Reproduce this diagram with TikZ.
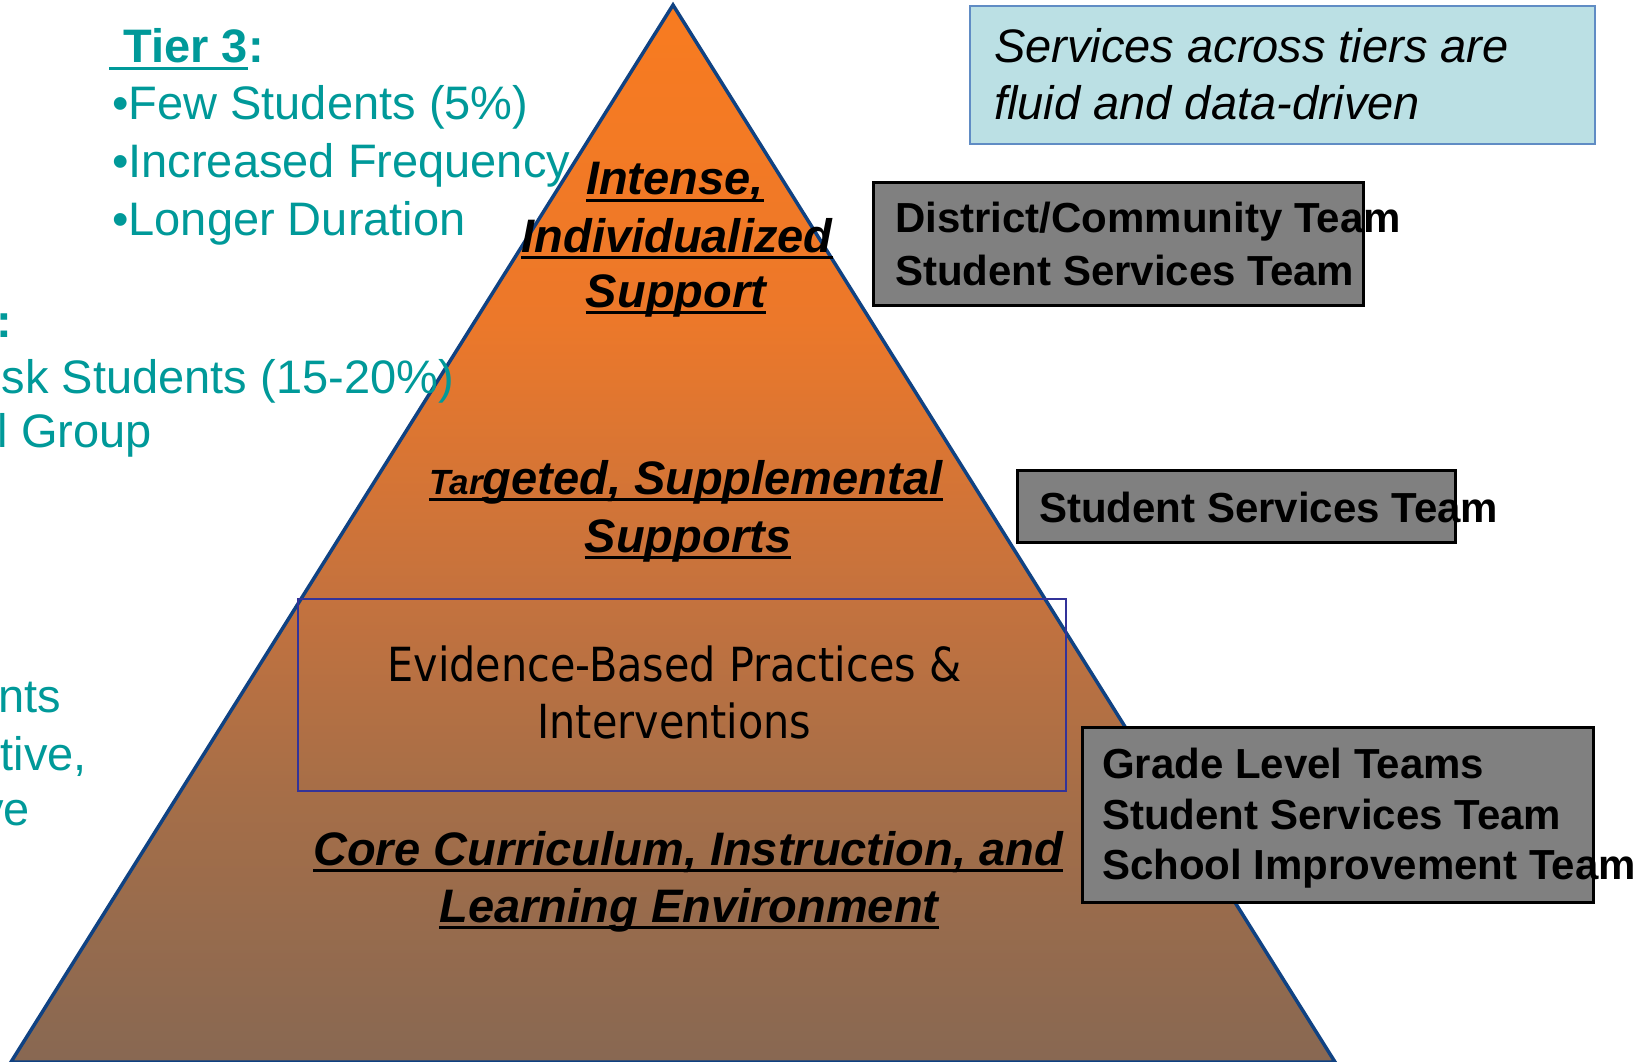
\documentclass[tikz,border=0pt]{standalone}
\usepackage{fontspec}
\setmainfont{Liberation Sans}
\newfontfamily\tahomish[FakeStretch=0.88]{DejaVu Sans}
\usepackage{tikz}

\definecolor{tiercol}{RGB}{0,153,153}
\definecolor{tritop}{RGB}{248,123,32}
\definecolor{trihigh}{RGB}{236,120,42}
\definecolor{trimid}{RGB}{196,114,62}
\definecolor{trilow}{RGB}{165,110,72}
\definecolor{tribot}{RGB}{136,104,82}
\definecolor{triedge}{RGB}{16,66,130}
\definecolor{evcol}{RGB}{51,51,153}
\definecolor{fluidfill}{RGB}{187,224,228}
\definecolor{fluidedge}{RGB}{96,140,196}
\definecolor{boxgray}{RGB}{128,128,128}

\pgfdeclareverticalshading{pyramidfill}{100bp}{color(0bp)=(tribot); color(25bp)=(tribot);
  color(37.4bp)=(trilow); color(46.9bp)=(trimid); color(60.1bp)=(trihigh);
  color(75bp)=(tritop); color(100bp)=(tritop)}

\begin{document}
\begin{tikzpicture}[x=1pt,y=-1pt]
        \tikzstyle{tiertxt}=[inner sep=0pt, anchor=base west, text=tiercol, font=\fontsize{47}{56}\selectfont]
        \tikzstyle{tierhead}=[tiertxt, font=\fontsize{47}{56}\selectfont\bfseries]
        \tikzstyle{cuttxt}=[tiertxt, anchor=base east]
        \tikzstyle{lvltxt}=[inner sep=0pt, anchor=base, font=\fontsize{47}{56}\selectfont\bfseries\itshape]
        \tikzstyle{ulrule}=[line width=3pt]
        \tikzstyle{evbox}=[draw=evcol, line width=2pt, inner sep=0pt, minimum width=768pt, minimum height=192pt]
        \tikzstyle{evtxt}=[inner sep=0pt, anchor=base, font=\tahomish\fontsize{47}{56}\selectfont]
        \tikzstyle{fluidbox}=[draw=fluidedge, fill=fluidfill, line width=2.5pt, inner sep=0pt, minimum width=625pt, minimum height=138pt]
        \tikzstyle{fluidtxt}=[inner sep=0pt, anchor=base west, font=\fontsize{47}{56}\selectfont\itshape]
        \tikzstyle{teambox}=[draw=black, fill=boxgray, line width=3pt, inner sep=0pt]
        \tikzstyle{teamtxt}=[inner sep=0pt, anchor=base west, font=\fontsize{42}{50}\selectfont\bfseries]

        \useasboundingbox (0,0) rectangle (1642,1062);

        \path[shade, shading=pyramidfill, draw=triedge, line width=3.5pt]
            (673,5) -- (1335,1062) -- (11,1062) -- cycle;

        \node[tierhead] (tier3) at (123,63) {Tier 3};
        \node[tierhead] (colon3) at (tier3.base east) {:};
        \draw[ulrule, tiercol] ([xshift=-14pt,yshift=-5.5pt]tier3.base west) -- ([yshift=-5.5pt]tier3.base east);
        \node[tiertxt] (few)  at (112,120) {•Few Students (5\%)};
        \node[tiertxt] (freq) at (112,178) {•Increased Frequency};
        \node[tiertxt] (dur)  at (112,235) {•Longer Duration};

        \node[tierhead] (tier2) at (-4,337) {:};
        \node[cuttxt] (risk)  at (454,393) {sk Students (15-20\%)};
        \node[cuttxt] (small) at (152,447) {l Group};

        \node[cuttxt] (all)  at (61,712) {nts};
        \node[cuttxt] (prev) at (87,770) {tive,};
        \node[cuttxt] (proa) at (30,825) {ve};

        \node[lvltxt] (int) at (675,195) {Intense,};
        \node[lvltxt] (ind) at (677,252) {Individualized};
        \node[lvltxt] (sup) at (676,307) {Support};

        \node[lvltxt] (targ)  at (686,494) {{\fontsize{35}{35}\selectfont Tar}geted, Supplemental};
        \node[lvltxt] (supps) at (688,552) {Supports};

        \node[evbox] (ebp) at (682,695) {};
        \node[evtxt] (ebp1) at (674.5,681) {Evidence-Based Practices \&};
        \node[evtxt] (ebp2) at (674.5,738) {Interventions};

        \node[lvltxt] (core)  at (688,865) {Core Curriculum, Instruction, and};
        \node[lvltxt] (learn) at (689,922) {Learning Environment};

        \foreach \n in {int,ind,sup,targ,supps,core,learn}
            \draw[ulrule] ([yshift=-5.5pt]\n.base west) -- ([yshift=-5.5pt]\n.base east);

        \node[fluidbox] (fluid) at (1282.5,75) {};
        \node[fluidtxt] (fluid1) at (994,63) {Services across tiers are};
        \node[fluidtxt] (fluid2) at (994,120) {fluid and data-driven};

        \node[teambox, minimum width=490pt, minimum height=122pt] (dist) at (1118,244) {};
        \node[teamtxt] (dist1) at (895,233) {District/Community Team};
        \node[teamtxt] (dist2) at (895,285) {Student Services Team};

        \node[teambox, minimum width=438pt, minimum height=72pt] (sst) at (1236,506) {};
        \node[teamtxt] (sst1) at (1039,522) {Student Services Team};

        \node[teambox, minimum width=511pt, minimum height=175pt] (grade) at (1337.5,814.5) {};
        \node[teamtxt] (grade1) at (1102,778) {Grade Level Teams};
        \node[teamtxt] (grade2) at (1102,829) {Student Services Team};
        \node[teamtxt] (grade3) at (1102,879) {School Improvement Team};
    \end{tikzpicture}
\end{document}
